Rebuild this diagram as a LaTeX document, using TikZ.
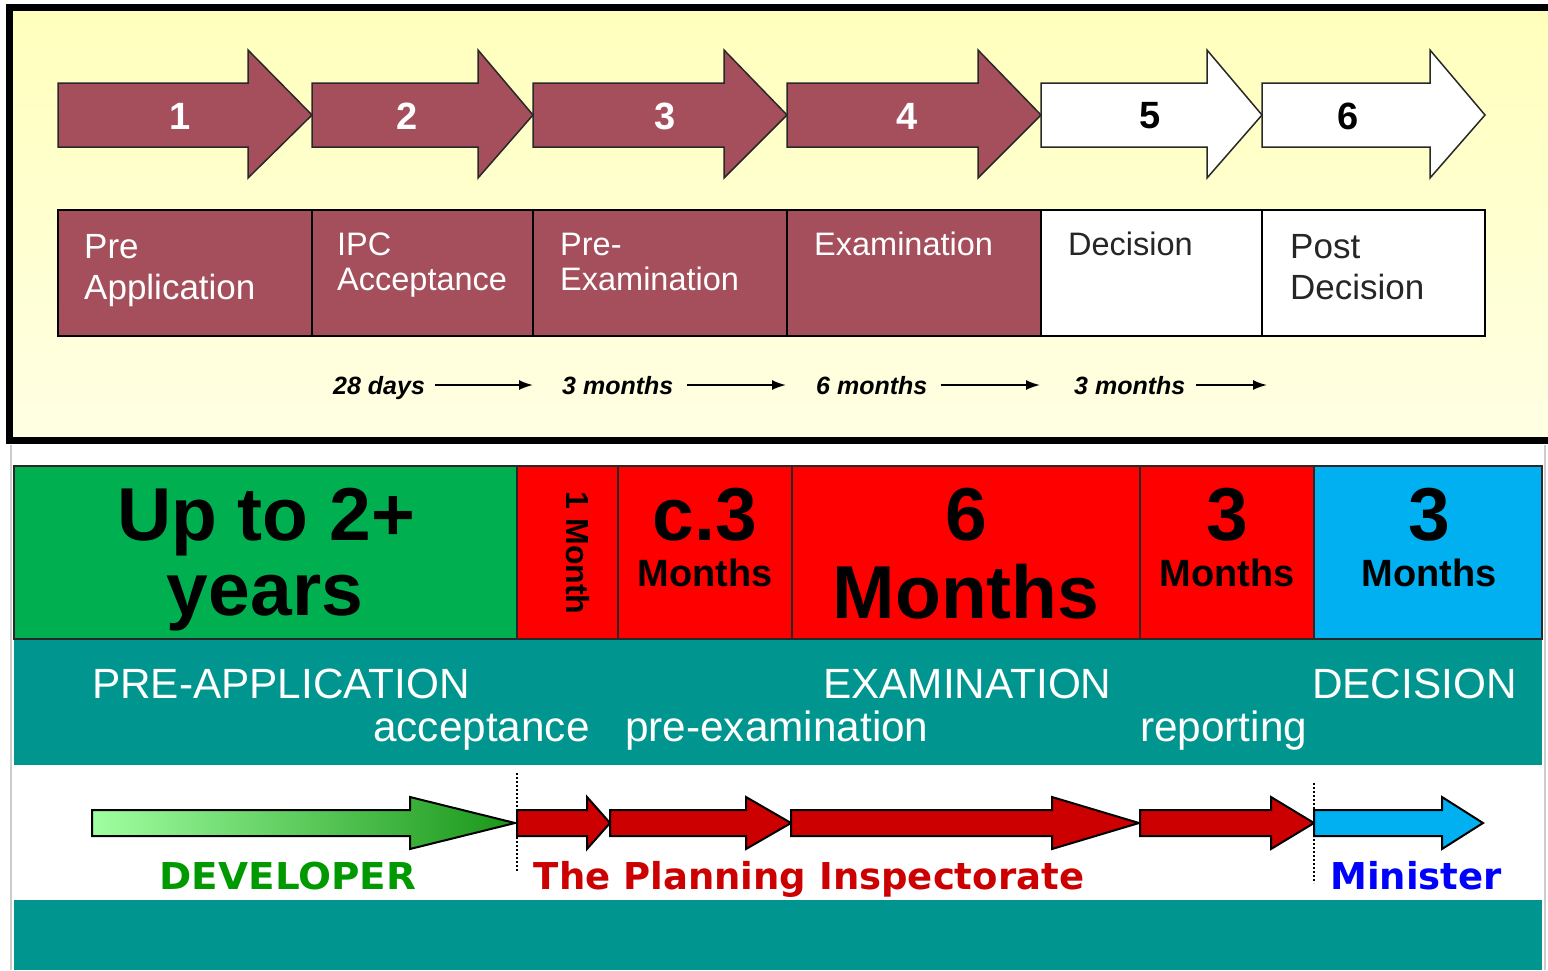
\documentclass[tikz,border=0pt]{standalone}
\usepackage{fontspec}
\setmainfont{Liberation Sans}
\newfontfamily\heavyfont{DejaVu Sans}
\usetikzlibrary{arrows.meta}
\definecolor{maroon}{RGB}{165,79,93}
\definecolor{yeltop}{RGB}{255,255,188}
\definecolor{yelbot}{RGB}{255,255,228}
\definecolor{tealband}{RGB}{0,150,143}
\definecolor{boxgreen}{RGB}{0,176,80}
\definecolor{boxred}{RGB}{255,0,0}
\definecolor{boxblue}{RGB}{0,176,240}
\definecolor{arrred}{RGB}{204,0,0}
\definecolor{devgreen}{RGB}{0,153,0}
\definecolor{minblue}{RGB}{0,0,255}
\definecolor{glight}{RGB}{160,255,160}
\definecolor{gdark}{RGB}{25,150,25}
\newcommand\blockarrowpath[8]{(#1,#4) -- (#2,#4) -- (#2,#6) -- (#3,#8) -- (#2,#7) -- (#2,#5) -- (#1,#5) -- cycle}
\newcommand\toparrow[3]{\blockarrowpath{#1}{#2}{#3}{83}{147}{50}{178}{115}}
\newcommand\lowarrow[3]{\blockarrowpath{#1}{#2}{#3}{810}{836}{797}{849}{823}}
\begin{document}
\begin{tikzpicture}[x=1pt,y=-1pt,
  stepnum/.style={font=\fontsize{38}{44}\selectfont\bfseries, inner sep=0pt},
  boxtxtL/.style={text=white, font=\fontsize{35}{41}\selectfont, align=left, anchor=north west, inner sep=0pt},
  boxtxtS/.style={text=white, font=\fontsize{32.5}{35}\selectfont, align=left, anchor=north west, inner sep=0pt},
  durtxt/.style={font=\fontsize{25}{30}\selectfont\bfseries\itshape, anchor=base west, inner sep=0pt},
  durarrow/.style={-{Latex[length=14pt,width=10pt]}, line width=1.8pt},
  bigtxt/.style={font=\fontsize{75}{82}\selectfont\bfseries, anchor=base, inner sep=0pt},
  medtxt/.style={font=\fontsize{38}{42}\selectfont\bfseries, anchor=base, inner sep=0pt},
  bandcap/.style={text=white, font=\fontsize{42.3}{46}\selectfont, anchor=base west, inner sep=0pt},
  bandlow/.style={text=white, font=\fontsize{42.3}{46}\selectfont, anchor=base west, inner sep=0pt},
  actor/.style={font=\heavyfont\fontsize{37}{42}\selectfont\bfseries, anchor=base, inner sep=0pt},
  topout/.style={draw={rgb,255:red,40;green,40;blue,40}, line width=1.5pt},
  rowbox/.style={draw={rgb,255:red,40;green,40;blue,40}, line width=1.5pt},
  lowout/.style={draw=black, line width=2pt, line join=miter}]
\useasboundingbox (0,0) rectangle (1548,970);
\clip (0,0) rectangle (1548,970);
\fill[white] (0,0) rectangle (1548,970);

% ---------- top panel ----------
\shade[top color=yeltop, bottom color=yelbot] (9,7) rectangle (1560,440);
\draw[line width=7pt] (9,7) rectangle (1570,440);

\filldraw[fill=maroon, topout] \toparrow{58}{248}{312};
\filldraw[fill=maroon, topout] \toparrow{312}{478}{533};
\filldraw[fill=maroon, topout] \toparrow{533}{724}{787};
\filldraw[fill=maroon, topout] \toparrow{787}{978}{1041};
\filldraw[fill=white, topout] \toparrow{1041}{1207}{1262};
\filldraw[fill=white, topout] \toparrow{1262}{1430}{1485};

\node[stepnum, text=white] (n1) at (180,116) {1};
\node[stepnum, text=white] (n2) at (407,116) {2};
\node[stepnum, text=white] (n3) at (665,116) {3};
\node[stepnum, text=white] (n4) at (907,116) {4};
\node[stepnum, text=black] (n5) at (1150,116) {5};
\node[stepnum, text=black] (n6) at (1348,116) {6};

\filldraw[fill=maroon, topout, draw=black] (58,210) rectangle (312,336);
\filldraw[fill=maroon, topout, draw=black] (312,210) rectangle (533,336);
\filldraw[fill=maroon, topout, draw=black] (533,210) rectangle (787,336);
\filldraw[fill=maroon, topout, draw=black] (787,210) rectangle (1041,336);
\filldraw[fill=white, topout, draw=black] (1041,210) rectangle (1262,336);
\filldraw[fill=white, topout, draw=black] (1262,210) rectangle (1485,336);

\node[boxtxtL] (b1) at (84,234) {Pre\\Application};
\node[boxtxtS] (b2) at (337,233) {IPC\\Acceptance};
\node[boxtxtS] (b3) at (560,233) {Pre-\\Examination};
\node[boxtxtS] (b4) at (814,232) {Examination};
\node[boxtxtS, text=black!85] (b5) at (1068,232) {Decision};
\node[boxtxtL, text=black!85] (b6) at (1290,234) {Post\\Decision};

\node[durtxt] (d1) at (333,394) {28 days};
\node[durtxt] (d2) at (562,394) {3 months};
\node[durtxt] (d3) at (816,394) {6 months};
\node[durtxt] (d4) at (1074,394) {3 months};
\coordinate (e1) at (533,385);
\coordinate (e2) at (786,385);
\coordinate (e3) at (1040,385);
\coordinate (e4) at (1267,385);
\draw[durarrow] ([xshift=10pt]d1.east |- e1) -- (e1);
\draw[durarrow] ([xshift=13pt]d2.east |- e2) -- (e2);
\draw[durarrow] ([xshift=13pt]d3.east |- e3) -- (e3);
\draw[durarrow] ([xshift=10pt]d4.east |- e4) -- (e4);

% ---------- bottom panel ----------
\draw[line width=2pt, black!20] (11,445) -- (11,970);
\draw[line width=2pt, black!20] (1545,445) -- (1545,970);

\fill[tealband] (14,639) rectangle (1542,765);
\fill[tealband] (14,900) rectangle (1542,970);

\filldraw[fill=boxgreen, rowbox] (14,466) rectangle (517,639);
\filldraw[fill=boxred, rowbox] (517,466) rectangle (618,639);
\filldraw[fill=boxred, rowbox] (618,466) rectangle (792,639);
\filldraw[fill=boxred, rowbox] (792,466) rectangle (1140,639);
\filldraw[fill=boxred, rowbox] (1140,466) rectangle (1314,639);
\filldraw[fill=boxblue, rowbox] (1314,466) rectangle (1542,639);

\node[bigtxt] (upto) at (266,540) {Up to 2+};
\node[bigtxt] (years) at (265,615) {years};
\node[font=\fontsize{32}{36}\selectfont\bfseries, rotate=-90, inner sep=0pt] (onem) at (578,553) {1 Month};
\node[bigtxt] (c3) at (705,540) {c.3};
\node[medtxt] (c3m) at (705,586) {Months};
\node[bigtxt] (six) at (966,540) {6};
\node[bigtxt] (sixm) at (966,618) {Months};
\node[bigtxt] (thrA) at (1227,540) {3};
\node[medtxt] (thrAm) at (1227,586) {Months};
\node[bigtxt] (thrB) at (1429,540) {3};
\node[medtxt] (thrBm) at (1429,586) {Months};

\node[bandcap] (preapp) at (92,698) {PRE-APPLICATION};
\node[bandcap] (exam) at (823,698) {EXAMINATION};
\node[bandcap] (dec) at (1312,698) {DECISION};
\node[bandlow] (acc) at (373,741) {acceptance};
\node[bandlow] (preex) at (625,741) {pre-examination};
\node[bandlow] (rep) at (1140,741) {reporting};

\shade[left color=glight, right color=gdark] \lowarrow{92}{410}{515};
\draw[lowout] \lowarrow{92}{410}{515};
\filldraw[fill=arrred, lowout] \lowarrow{517}{587}{610};
\filldraw[fill=arrred, lowout] \lowarrow{610}{746}{791};
\filldraw[fill=arrred, lowout] \lowarrow{791}{1052}{1139};
\filldraw[fill=arrred, lowout] \lowarrow{1140}{1271}{1314};
\filldraw[fill=boxblue, lowout] \lowarrow{1314}{1442}{1483};

\draw[line width=2pt, dotted] (517,773) -- (517,872);
\draw[line width=2pt, dotted] (1314,783) -- (1314,883);

\node[actor, text=devgreen] (dev) at (288,889) {\scalebox{1.05}[1]{DEVELOPER}};
\node[actor, text=arrred] (pins) at (809,889) {The Planning Inspectorate};
\node[actor, text=minblue] (mins) at (1416,889) {Minister};
\end{tikzpicture}
\end{document}
